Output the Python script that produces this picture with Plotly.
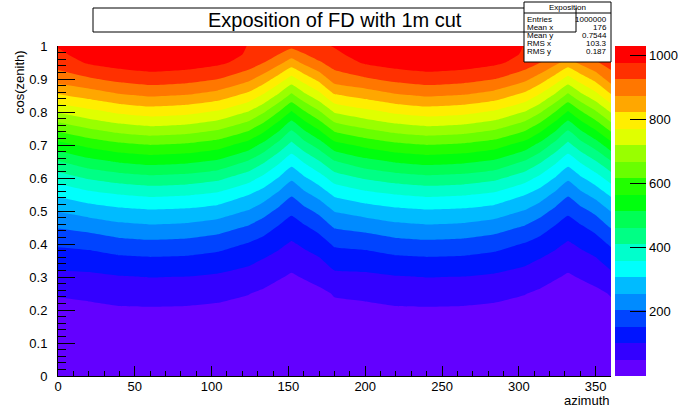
import plotly.graph_objects as go

# ---------------------------------------------------------------------------
# Exposure map of the FD (1 m cut): counts per (azimuth, cos(zenith)) cell
# ---------------------------------------------------------------------------
azimuth = [0, 20, 40, 60, 84, 104, 124, 134, 144, 152, 160, 170, 180,
           200, 220, 240, 264, 284, 304, 314, 324, 332, 340, 350, 360]

cos_zenith = [0, 0.1, 0.2, 0.25, 0.3, 0.35, 0.4, 0.45, 0.5, 0.55, 0.6, 0.65,
              0.7, 0.75, 0.8, 0.85, 0.9, 0.95, 0.975, 1.0]

# one list per azimuth column, bottom (cos=0) to top (cos=1)
exposure_by_azimuth = [
    [0, 18, 40, 55, 89, 124, 162, 209, 260, 318, 384, 460, 546, 635, 725, 817, 900, 949, 968, 982],      # 0
    [0, 20, 40, 62, 92, 128, 170, 222, 280, 344, 418, 498, 580, 669, 756, 843, 920, 985, 1001, 1015],    # 20
    [0, 21, 45, 71, 100, 140, 186, 240, 295, 361, 438, 521, 605, 695, 782, 868, 942, 1001, 1015, 1025],  # 40
    [0, 22, 46, 73, 104, 144, 192, 247, 303, 371, 449, 533, 618, 709, 796, 881, 954, 1010, 1022, 1030],  # 60
    [0, 22, 45, 71, 102, 141, 188, 242, 298, 365, 442, 525, 609, 700, 787, 872, 946, 1004, 1017, 1026],  # 84
    [0, 21, 41, 65, 95, 132, 175, 228, 285, 350, 425, 506, 589, 678, 765, 852, 928, 990, 1006, 1018],    # 104
    [0, 19, 35, 53, 82, 114, 151, 199, 254, 311, 382, 459, 543, 631, 718, 807, 888, 958, 972, 976],      # 124
    [0, 17, 30, 43, 71, 99, 134, 176, 226, 283, 346, 419, 498, 586, 674, 764, 850, 928, 957, 968],       # 134
    [0, 14, 20, 29, 56, 84, 113, 148, 192, 245, 305, 369, 444, 527, 615, 708, 799, 889, 926, 961],       # 144
    [0, 12, 28, 36, 45, 70, 97, 129, 165, 212, 267, 329, 397, 472, 561, 657, 753, 853, 897, 940],        # 152
    [0, 14, 20, 28, 55, 83, 111, 146, 190, 243, 301, 365, 440, 522, 610, 704, 795, 886, 923, 959],       # 160
    [0, 16, 28, 40, 68, 96, 130, 170, 218, 275, 337, 408, 486, 574, 662, 753, 839, 921, 951, 968],       # 170
    [0, 18, 40, 55, 89, 124, 162, 209, 260, 318, 384, 460, 546, 635, 725, 817, 900, 949, 968, 982],      # 180
    [0, 20, 40, 62, 92, 128, 170, 222, 280, 344, 418, 498, 580, 669, 756, 843, 920, 985, 1001, 1015],    # 200
    [0, 21, 45, 71, 100, 140, 186, 240, 295, 361, 438, 521, 605, 695, 782, 868, 942, 1001, 1015, 1025],  # 220
    [0, 22, 46, 73, 104, 144, 192, 247, 303, 371, 449, 533, 618, 709, 796, 881, 954, 1010, 1022, 1030],  # 240
    [0, 22, 45, 71, 102, 141, 188, 242, 298, 365, 442, 525, 609, 700, 787, 872, 946, 1004, 1017, 1026],  # 264
    [0, 21, 41, 65, 95, 132, 175, 228, 285, 350, 425, 506, 589, 678, 765, 852, 928, 990, 1006, 1018],    # 284
    [0, 19, 35, 53, 82, 114, 151, 199, 254, 311, 382, 459, 543, 631, 718, 807, 888, 958, 972, 976],      # 304
    [0, 17, 30, 43, 71, 99, 134, 176, 226, 283, 346, 419, 498, 586, 674, 764, 850, 928, 957, 968],       # 314
    [0, 14, 20, 29, 56, 84, 113, 148, 192, 245, 305, 369, 444, 527, 615, 708, 799, 889, 926, 961],       # 324
    [0, 12, 28, 36, 45, 70, 97, 129, 165, 212, 267, 329, 397, 472, 561, 657, 753, 853, 897, 940],        # 332
    [0, 14, 20, 28, 55, 83, 111, 146, 190, 243, 301, 365, 440, 522, 610, 704, 795, 886, 923, 959],       # 340
    [0, 16, 28, 40, 68, 96, 130, 170, 218, 275, 337, 408, 486, 574, 662, 753, 839, 921, 951, 968],       # 350
    [0, 18, 40, 55, 89, 124, 162, 209, 260, 318, 384, 460, 546, 635, 725, 817, 900, 949, 968, 982],      # 360
]

# contour levels: 20 bands between the histogram minimum and maximum
z_min = 0
z_max = 1030
n_bands = 20
colorbar_ticks = [200, 400, 600, 800, 1000]

# ROOT "pretty" palette colours picked for 20 contour bands (low -> high)
band_colors = [
    "rgb(99,0,255)", "rgb(51,0,255)", "rgb(0,20,255)", "rgb(0,68,255)",
    "rgb(0,139,255)", "rgb(0,187,255)", "rgb(0,255,252)", "rgb(0,255,204)",
    "rgb(0,255,133)", "rgb(0,255,85)", "rgb(0,255,14)", "rgb(34,255,0)",
    "rgb(105,255,0)", "rgb(153,255,0)", "rgb(224,255,0)", "rgb(255,238,0)",
    "rgb(255,167,0)", "rgb(255,119,0)", "rgb(255,48,0)", "rgb(255,0,0)",
]

stats_title = "Exposition"
stats_labels = ["Entries", "Mean x", "Mean y", "RMS x", "RMS y"]
stats_values = ["1000000", "176", "0.7544", "103.3", "0.187"]

title_text = "Exposition of FD with 1m cut"
x_title = "azimuth"
y_title = "cos(zenith)"

# ---------------------------------------------------------------------------
W, H = 678, 408
L, R, T, B = 58, 611, 46, 376          # plot frame in pixels
FONT = "Liberation Sans, Arial, Helvetica, sans-serif"


def fx(p):
    return (p - L) / (R - L)


def fy(p):
    return (B - p) / (B - T)


step = (z_max - z_min) / n_bands
# stepped colour scale: one flat colour per band
scale = []
for i, c in enumerate(band_colors):
    scale.append([i / n_bands, c])
    scale.append([(i + 1) / n_bands, c])

z_rows = [list(r) for r in zip(*exposure_by_azimuth)]

fig = go.Figure()
fig.add_trace(go.Contour(
    x=azimuth, y=cos_zenith, z=z_rows,
    autocontour=False,
    contours=dict(start=z_min + step, end=z_max - step, size=step,
                  coloring="fill", showlines=False),
    line=dict(width=0, smoothing=0.4),
    colorscale=scale, showscale=False, hoverinfo="skip",
))

# colour axis (palette legend) for the same 20 bands
fig.add_trace(go.Scatter(
    x=[None], y=[None], mode="markers", showlegend=False, hoverinfo="skip",
    marker=dict(color=[z_min], colorscale=scale, cmin=z_min, cmax=z_max,
                showscale=True,
                colorbar=dict(
                    x=fx(615), xanchor="left", xpad=0,
                    y=0.5, yanchor="middle", ypad=0,
                    len=1.0, lenmode="fraction",
                    thickness=31, thicknessmode="pixels",
                    outlinewidth=0,
                    tickvals=colorbar_ticks, ticks="inside", ticklen=16,
                    tickcolor="black", tickwidth=1,
                    tickfont=dict(family=FONT, size=13, color="black"),
                )),
))

axis_common = dict(showgrid=False, zeroline=False, showline=True,
                   linecolor="black", linewidth=1, ticks="inside",
                   tickcolor="black", tickwidth=1,
                   tickfont=dict(family=FONT, size=13, color="black"))

fig.update_xaxes(range=[0, 360], dtick=50, tick0=0, ticklen=10,
                 ticklabelstandoff=-2,
                 minor=dict(dtick=10, ticklen=5, ticks="inside",
                            tickcolor="black"),
                 **axis_common)
fig.update_yaxes(range=[0, 1], dtick=0.1, tick0=0, ticklen=17,
                 ticklabelstandoff=7,
                 minor=dict(dtick=0.02, ticklen=8, ticks="inside",
                            tickcolor="black"),
                 **axis_common)

shapes = [
    # title pave
    dict(type="rect", xref="paper", yref="paper",
         x0=fx(93), x1=fx(576), y0=fy(32), y1=fy(8),
         line=dict(color="black", width=1), fillcolor="white", layer="above"),
    # statistics box
    dict(type="rect", xref="paper", yref="paper",
         x0=fx(524), x1=fx(611), y0=fy(62), y1=fy(2),
         line=dict(color="black", width=1), fillcolor="white", layer="above"),
    dict(type="line", xref="paper", yref="paper",
         x0=fx(524), x1=fx(611), y0=fy(13), y1=fy(13),
         line=dict(color="black", width=1), layer="above"),
    # title pave border drawn over the stats box
    dict(type="line", xref="paper", yref="paper",
         x0=fx(524), x1=fx(576), y0=fy(32), y1=fy(32),
         line=dict(color="black", width=1), layer="above"),
    dict(type="line", xref="paper", yref="paper",
         x0=fx(576), x1=fx(576), y0=fy(32), y1=fy(8),
         line=dict(color="black", width=1), layer="above"),
]

annotations = [
    dict(text=title_text, xref="paper", yref="paper",
         x=fx(334.5), y=fy(20), xanchor="center", yanchor="middle",
         showarrow=False, font=dict(family=FONT, size=20, color="black")),
    dict(text=x_title, xref="paper", yref="paper",
         x=1.0, y=fy(400.5), xanchor="right", yanchor="middle",
         showarrow=False, borderpad=0,
         font=dict(family=FONT, size=13, color="black")),
    dict(text=y_title, xref="paper", yref="paper", textangle=-90,
         x=fx(19), y=fy(48), xanchor="center", yanchor="top",
         showarrow=False, font=dict(family=FONT, size=13, color="black")),
    dict(text=stats_title, xref="paper", yref="paper",
         x=fx(567), y=fy(7.5), xanchor="center", yanchor="middle",
         showarrow=False, borderpad=0,
         font=dict(family=FONT, size=8, color="black")),
]
for i, (lab, val) in enumerate(zip(stats_labels, stats_values)):
    yy = fy(19.4 + 8.0 * i)
    annotations.append(dict(text=lab, xref="paper", yref="paper",
                            x=fx(526), y=yy, xanchor="left", yanchor="middle",
                            showarrow=False, borderpad=0,
                            font=dict(family=FONT, size=8, color="black")))
    annotations.append(dict(text=val, xref="paper", yref="paper",
                            x=fx(608), y=yy, xanchor="right", yanchor="middle",
                            showarrow=False, borderpad=0,
                            font=dict(family=FONT, size=8, color="black")))

fig.update_layout(
    width=W, height=H,
    margin=dict(l=L, r=W - R, t=T, b=H - B, pad=0, autoexpand=False),
    paper_bgcolor="white", plot_bgcolor="white",
    showlegend=False,
    shapes=shapes, annotations=annotations,
)

fig.write_html("out.html")
